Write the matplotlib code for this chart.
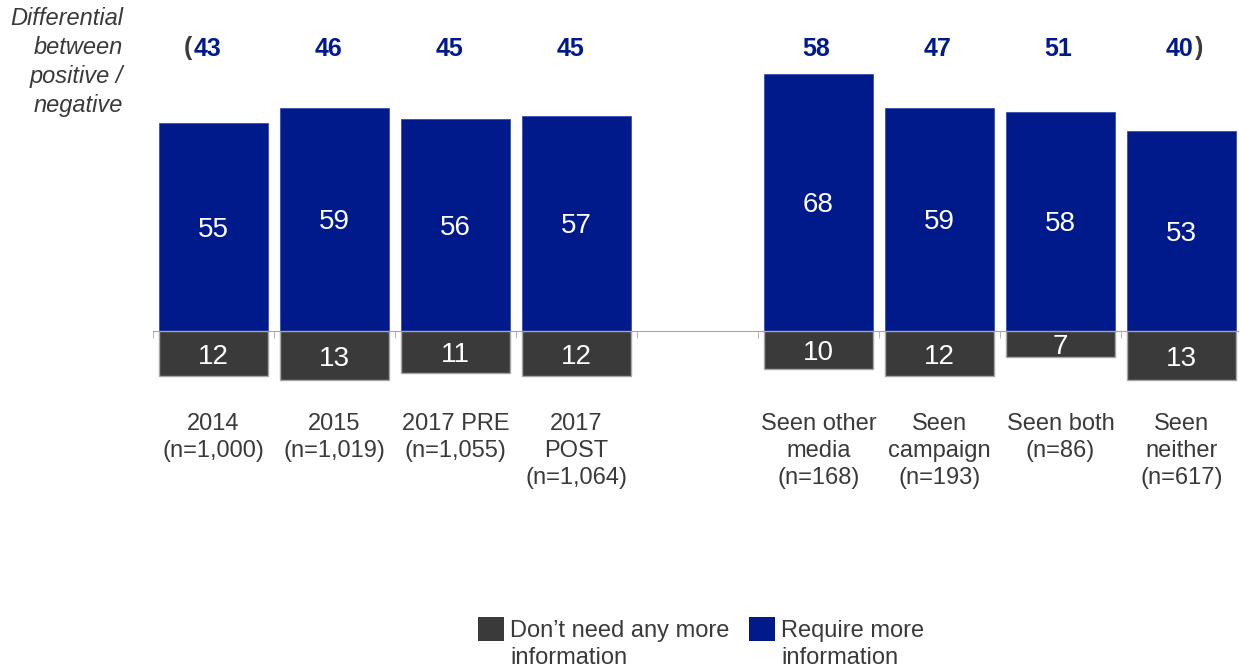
import matplotlib
matplotlib.use("Agg")
import matplotlib.pyplot as plt
from matplotlib.patches import Rectangle
import numpy as np

plt.rcParams["font.family"] = ["Liberation Sans", "DejaVu Sans"]

# data
categories = ["2014\n(n=1,000)", "2015\n(n=1,019)", "2017 PRE\n(n=1,055)", "2017\nPOST\n(n=1,064)",
              "Seen other\nmedia\n(n=168)", "Seen\ncampaign\n(n=193)", "Seen both\n(n=86)", "Seen\nneither\n(n=617)"]
require_more = [55, 59, 56, 57, 68, 59, 58, 53]
dont_need = [12, 13, 11, 12, 10, 12, 7, 13]
differential = [43, 46, 45, 45, 58, 47, 51, 40]

BLUE = "#001A8C"
DARK = "#3A3A3A"
TEXT = "#3A3A3A"

# slot positions, one empty slot between the two groups
xpos = np.array([0, 1, 2, 3, 5, 6, 7, 8])

fig = plt.figure(figsize=(12.39, 6.70), dpi=100)
ax = fig.add_axes([153 / 1239, 1 - 387.7 / 670, 1089 / 1239, 378 / 670])

ax.bar(xpos, require_more, width=0.909, color=BLUE, edgecolor="#3550B0", linewidth=0.6, zorder=2)
ax.bar(xpos, [-v for v in dont_need], width=0.909, color=DARK, edgecolor="#A6A6A6", linewidth=1.0, zorder=2)

for x, v in zip(xpos, require_more):
    ax.text(x, v / 2, str(v), ha="center", va="center_baseline", color="white", fontsize=20, zorder=3)
for x, v in zip(xpos, dont_need):
    ax.text(x, -v / 2, str(v), ha="center", va="center_baseline", color="white", fontsize=20, zorder=3)

# differential row
for i, (x, v) in enumerate(zip(xpos, differential)):
    dx = -6 if x < 4 else -2
    ax.annotate(str(v), xy=(x, 75), xytext=(dx, -1), textcoords="offset pixels",
                ha="center", va="center", color=BLUE, fontsize=18, fontweight="bold")
    if i == 0:
        ax.annotate("(", xy=(x, 75), xytext=(dx - 15, -1), textcoords="offset pixels",
                    ha="right", va="center", color=TEXT, fontsize=18, fontweight="bold")
    if i == len(xpos) - 1:
        ax.annotate(")", xy=(x, 75), xytext=(dx + 15, -1), textcoords="offset pixels",
                    ha="left", va="center", color=TEXT, fontsize=18, fontweight="bold")

fig.text(123 / 1239, 1 - 7 / 670, "Differential\nbetween\npositive /\nnegative", ha="right", va="top",
         fontsize=17, style="italic", color=TEXT, linespacing=1.33)

ax.set_xlim(-0.5, 8.5)
ax.set_ylim(-15, 85)
for s in ["top", "right", "left"]:
    ax.spines[s].set_visible(False)
ax.spines["bottom"].set_position(("data", 0))
ax.spines["bottom"].set_color("#A6A6A6")
ax.spines["bottom"].set_zorder(1)
ax.set_yticks([])
ax.set_xticks(xpos)
ax.set_xticklabels(categories, fontsize=17, color=TEXT, linespacing=1.3)
ax.tick_params(axis="x", which="major", length=0, pad=59)
ax.set_xticks(np.arange(-0.5, 9, 1), minor=True)
ax.tick_params(axis="x", which="minor", length=5, color="#A6A6A6", direction="out")

# legend
legend_items = [("Don\u2019t need any more\ninformation", DARK, 478), ("Require more\ninformation", BLUE, 749)]
for label, col, px in legend_items:
    fig.add_artist(Rectangle((px / 1239, 1 - 641 / 670), 26 / 1239, 24 / 670,
                             transform=fig.transFigure, facecolor=col, edgecolor="none"))
    fig.text((px + 32) / 1239, 1 - 620 / 670, label, ha="left", va="top", fontsize=17,
             color=TEXT, linespacing=1.3)

fig.savefig("out.png", dpi=100)
